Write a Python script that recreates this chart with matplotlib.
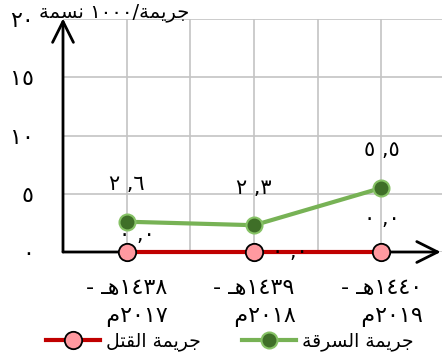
#!/usr/bin/env python3
"""Theft vs. murder rate per 1000 people, 1438-1440 AH (RTL labels in visual order)."""

import matplotlib
matplotlib.use('Agg')
import matplotlib.pyplot as plt

# Arabic text is written in visual (left-to-right) order with presentation forms,
# since matplotlib does no bidi / shaping.
years = ['- \u0640\ufeeb\u0661\u0664\u0663\u0668\n   \ufee1\u0662\u0660\u0661\u0667',
         '- \u0640\ufeeb\u0661\u0664\u0663\u0669\n   \ufee1\u0662\u0660\u0661\u0668',
         '- \u0640\ufeeb\u0661\u0664\u0664\u0660\n   \ufee1\u0662\u0660\u0661\u0669']
x_pos = [1, 3, 5]
theft = [2.6, 2.3, 5.5]
murder = [0.0, 0.0, 0.0]
theft_labels = ['\u0662 ,\u0666', '\u0662 ,\u0663', '\u0665 ,\u0665']
murder_labels = ['\u0660 ,\u0660', '\u0660 ,\u0660', '\u0660 ,\u0660']
y_ticks = [0, 5, 10, 15, 20]
y_ticklabels = ['\u0660', '\u0665', '\u0661\u0660', '\u0661\u0665', '\u0662\u0660']

name_theft = '\ufe94\ufed7\ufeae\ufeb4\ufedf\ufe8d \ufe94\ufee4\ufef3\ufeae\ufe9f'
name_murder = '\ufede\ufe98\ufed8\ufedf\ufe8d \ufe94\ufee4\ufef3\ufeae\ufe9f'
y_title = '\ufe94\ufee4\ufeb4\ufee7 \u0661\u0660\u0660\u0660/\ufe94\ufee4\ufef3\ufeae\ufe9f'

plt.rcParams['font.family'] = ['DejaVu Sans']

fig = plt.figure(figsize=(4.42, 3.57), dpi=100)
ax = fig.add_axes([63 / 442, 1 - 252 / 357, (442 - 63) / 442, 233 / 357])

ax.set_xlim(0, 5.95)
ax.set_ylim(0, 20)
ax.set_xticks(x_pos)
ax.set_xticks([2, 4], minor=True)
ax.set_xticklabels(years, fontsize=16, linespacing=1.45)
ax.set_yticks(y_ticks)
ax.set_yticklabels(y_ticklabels, fontsize=16)
ax.tick_params(which='both', length=0)
ax.tick_params(axis='y', pad=21)
ax.tick_params(axis='x', pad=19)
ax.grid(True, which='both', color='#c4c4c4', lw=1.2, zorder=0)
for s in ax.spines.values():
    s.set_visible(False)

# axis arrows
arrow = dict(arrowstyle='->, head_length=1.5, head_width=0.75', lw=2, color='black',
             shrinkA=0, shrinkB=0, mutation_scale=10)
ax.annotate('', xy=(0, 20.05), xytext=(0, 0), arrowprops=arrow, annotation_clip=False, zorder=3)
ax.annotate('', xy=(5.93, 0), xytext=(0, 0), arrowprops=arrow, annotation_clip=False, zorder=3)

ax.plot(x_pos, theft, color='#77b255', lw=3, marker='o', ms=11.5,
        mfc='#3f6f28', mec='#86c265', mew=1.5, label=name_theft, zorder=4, clip_on=False)
ax.plot(x_pos, murder, color='#c00000', lw=3, marker='o', ms=12.5,
        mfc='#ff99a0', mec='black', mew=1.3, label=name_murder, zorder=5, clip_on=False)

for x, y, t in zip(x_pos, theft, theft_labels):
    ax.annotate(t, (x, y), xytext=(0, 27), textcoords='offset points',
                ha='center', va='center', fontsize=15)
murder_offsets = [(7, 12.5), (26, 0), (0, 24)]
for x, y, t, off in zip(x_pos, murder, murder_labels, murder_offsets):
    ax.annotate(t, (x, y), xytext=off, textcoords='offset points',
                ha='center', va='center', fontsize=15, zorder=6)

fig.text(114 / 442, 1 - 13 / 357, y_title, ha='center', va='center', fontsize=14)

handles, labels = ax.get_legend_handles_labels()
fig.legend(handles[::-1], labels[::-1], loc='center', bbox_to_anchor=(0.52, 0.045),
           ncol=2, frameon=False, fontsize=13.5, handlelength=2.9, handletextpad=0.3,
           columnspacing=2.2)

plt.savefig('out.png', dpi=100)
